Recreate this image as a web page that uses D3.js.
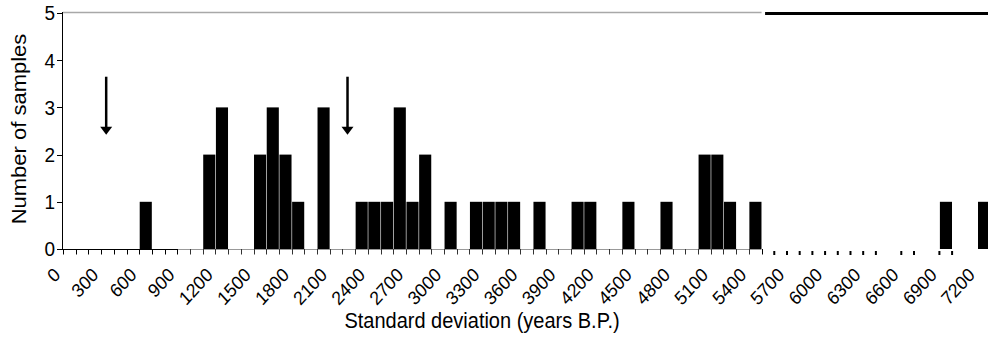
<!DOCTYPE html>
<html>
<head>
<meta charset="utf-8">
<script src="https://cdn.jsdelivr.net/npm/d3@7"></script>
<style>
  html, body { margin: 0; padding: 0; background: #fff; }
  svg { display: block; }
  text { font-family: "Liberation Sans", Arial, sans-serif; fill: #000; }
</style>
</head>
<body>
<svg id="chart" width="988" height="344"></svg>
<script>
// ---- data ----
const binStarts = [600, 1100, 1200, 1500, 1600, 1700, 1800, 2000, 2300, 2400, 2500, 2600, 2700, 2800,
                   3000, 3200, 3300, 3400, 3500, 3700, 4000, 4100, 4400, 4700, 5000, 5100, 5200, 5400, 6900, 7200];
const counts    = [1, 2, 3, 2, 3, 2, 1, 3, 1, 1, 1, 3, 1, 2,
                   1, 1, 1, 1, 1, 1, 1, 1, 1, 1, 2, 2, 1, 1, 1, 1];
const binWidth = 100;
const xTickLabels = [0, 300, 600, 900, 1200, 1500, 1800, 2100, 2400, 2700, 3000, 3300, 3600, 3900,
                     4200, 4500, 4800, 5100, 5400, 5700, 6000, 6300, 6600, 6900, 7200];
const yTickLabels = [0, 1, 2, 3, 4, 5];
const minorTicksSolid = [0,100,200,300,400,500,600,700,800,900,1000,1100,1200,1300,1400,1500,1600,1700,1800,1900,
  2000,2100,2200,2300,2400,2500,2600,2700,2800,2900,3000,3100,3200,3300,3400,3500,3600,3700,3800,3900,
  4000,4100,4200,4300,4400,4500,4600,4700,4800,4900,5000,5100,5200,5300,5400,5500];
const minorTicksDashed = [5600,5700,5800,5900,6000,6100,6200,6300,6400,6600,6700,6900,7000];
const axisBreak = 5500;
const arrowXs = [340, 2240];
const arrowTop = 3.65, arrowTip = 2.42;
const xTitle = "Standard deviation (years B.P.)";
const yTitle = "Number of samples";

// ---- layout ----
const svg = d3.select("#chart");
const x = d3.scaleLinear().domain([0, 7200]).range([63, 977.5]);
const y = d3.scaleLinear().domain([0, 5]).range([249, 13]);
const VS = 1.1; // vertical stretch of the reference text

// top border
svg.append("line").attr("x1", x(0)).attr("x2", x(axisBreak)).attr("y1", 12.5).attr("y2", 12.5)
  .attr("stroke", "#a8a8a8").attr("stroke-width", 1.5);
svg.append("line").attr("x1", x(axisBreak) + 3.5).attr("x2", 988).attr("y1", 13.5).attr("y2", 13.5)
  .attr("stroke", "#000").attr("stroke-width", 3);

// bars
svg.append("g").selectAll("rect").data(binStarts).join("rect")
  .attr("x", (d) => x(d) + 0.5)
  .attr("width", (d) => x(d + binWidth) - x(d) - 0.6)
  .attr("y", (d, i) => y(counts[i]))
  .attr("height", (d, i) => y(0) - y(counts[i]))
  .attr("fill", "#000");

// baseline
svg.append("line").attr("x1", x(0)).attr("x2", x(900)).attr("y1", 249.5).attr("y2", 249.5)
  .attr("stroke", "#000").attr("stroke-width", 1);
svg.append("line").attr("x1", x(900)).attr("x2", x(axisBreak)).attr("y1", 249.5).attr("y2", 249.5)
  .attr("stroke", "#999").attr("stroke-width", 1);

// x ticks
svg.append("g").selectAll("line").data(minorTicksSolid).join("line")
  .attr("x1", (d) => Math.round(x(d)) + 0.5).attr("x2", (d) => Math.round(x(d)) + 0.5)
  .attr("y1", 249).attr("y2", 254.5)
  .attr("stroke", (d) => (d > 900 && d < axisBreak) ? "#333" : "#000").attr("stroke-width", 1);
svg.append("g").selectAll("line").data(minorTicksDashed).join("line")
  .attr("x1", (d) => x(d)).attr("x2", (d) => x(d))
  .attr("y1", 251).attr("y2", 255)
  .attr("stroke", "#000").attr("stroke-width", 2);

// x tick labels
svg.append("g").selectAll("text").data(xTickLabels).join("text")
  .attr("transform", (d) => `translate(${x(d) - 1.6},276) scale(1,${VS}) rotate(-45)`)
  .attr("text-anchor", "end")
  .attr("font-size", 17.5)
  .text((d) => d);

// y axis
svg.append("line").attr("x1", 62.5).attr("x2", 62.5).attr("y1", 12).attr("y2", 250)
  .attr("stroke", "#000").attr("stroke-width", 1);
svg.append("g").selectAll("line").data(yTickLabels).join("line")
  .attr("x1", 57).attr("x2", 63)
  .attr("y1", (d) => Math.round(y(d)) + 0.5).attr("y2", (d) => Math.round(y(d)) + 0.5)
  .attr("stroke", "#000").attr("stroke-width", 1);
svg.append("g").selectAll("text").data(yTickLabels).join("text")
  .attr("transform", (d) => `translate(55,${y(d)}) scale(1,${VS})`)
  .attr("y", 6.8)
  .attr("text-anchor", "end")
  .attr("font-size", 19)
  .text((d) => d);

// arrows
const arrows = svg.append("g");
arrowXs.forEach((ax) => {
  const cx = x(ax);
  arrows.append("line").attr("x1", cx).attr("x2", cx)
    .attr("y1", y(arrowTop)).attr("y2", y(arrowTip) - 6)
    .attr("stroke", "#000").attr("stroke-width", 2.5);
  arrows.append("path")
    .attr("d", `M${cx - 6},${y(arrowTip) - 8} L${cx + 6},${y(arrowTip) - 8} L${cx},${y(arrowTip)} Z`)
    .attr("fill", "#000");
});

// axis titles
svg.append("text")
  .attr("transform", `translate(482,328) scale(1,${VS})`)
  .attr("text-anchor", "middle").attr("font-size", 20)
  .text(xTitle);
svg.append("text")
  .attr("transform", `translate(26,129) scale(1,${VS}) rotate(-90)`)
  .attr("text-anchor", "middle").attr("font-size", 20)
  .text(yTitle);
</script>
</body>
</html>
